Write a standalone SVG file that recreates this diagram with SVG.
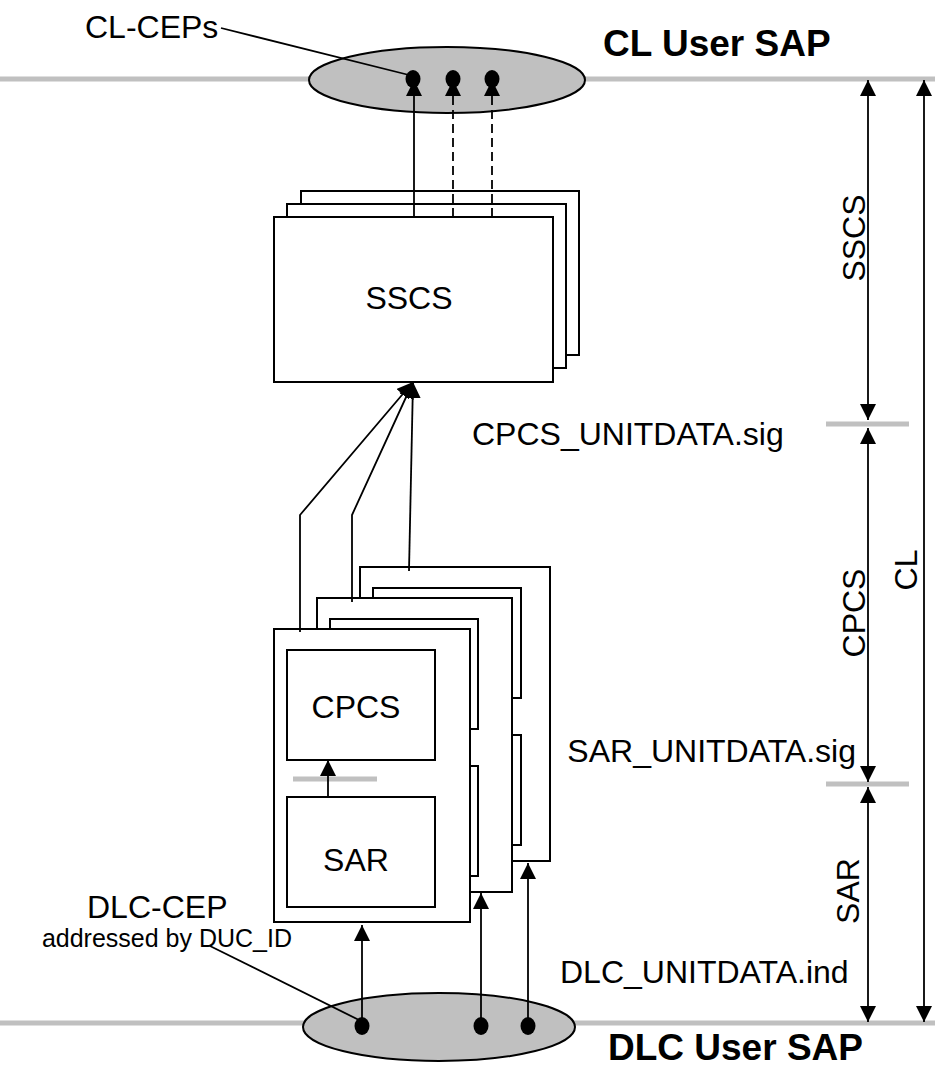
<svg xmlns="http://www.w3.org/2000/svg" width="935" height="1068" viewBox="0 0 935 1068">
<defs>
<style>
.t{font-family:"Liberation Sans",Arial,sans-serif;font-size:32px;fill:#000}
.tb{font-family:"Liberation Sans",Arial,sans-serif;font-size:37px;font-weight:bold;fill:#000}
.ts{font-family:"Liberation Sans",Arial,sans-serif;font-size:25px;fill:#000}
.box{fill:#fff;stroke:#000;stroke-width:2}
.sap{fill:#c0c0c0;stroke:#000;stroke-width:2}
.gl{stroke:#c0c0c0;stroke-width:5}
.ln{fill:none;stroke:#000;stroke-width:1.8}
.ar{fill:none;stroke:#000;stroke-width:1.8;marker-end:url(#ah)}
.dar{fill:none;stroke:#000;stroke-width:1.8;marker-start:url(#ahs);marker-end:url(#ah)}
.dash{stroke-dasharray:9,5}
.dot{fill:#000}
</style>
<marker id="ah" viewBox="0 0 16 16" refX="16" refY="8" markerWidth="16" markerHeight="16" orient="auto" markerUnits="userSpaceOnUse"><path d="M0,0L16,8L0,16z" fill="#000"/></marker>
<marker id="ahs" viewBox="0 0 16 16" refX="16" refY="8" markerWidth="16" markerHeight="16" orient="auto-start-reverse" markerUnits="userSpaceOnUse"><path d="M0,0L16,8L0,16z" fill="#000"/></marker>
</defs>

<g id="sap-lines">
<line class="gl" x1="0" y1="79" x2="935" y2="79"/>
<line class="gl" x1="0" y1="1023" x2="935" y2="1023"/>
<line class="gl" x1="826" y1="424" x2="909" y2="424"/>
<line class="gl" x1="826" y1="784" x2="909" y2="784"/>
</g>

<g id="cl-user-sap">
<ellipse class="sap" cx="447" cy="80" rx="138" ry="33"/>
</g>
<g id="dlc-user-sap">
<ellipse class="sap" cx="439" cy="1027" rx="136" ry="34"/>
</g>

<g id="sscs">
<rect class="box" x="301" y="191" width="278" height="164"/>
<rect class="box" x="287" y="204" width="279" height="164"/>
<rect class="box" x="274" y="217" width="279" height="165"/>
<text class="t" x="409" y="309" text-anchor="middle">SSCS</text>
</g>

<g id="entity-3">
<rect class="box" x="360" y="567" width="190" height="294"/>
<rect class="box" x="373" y="588" width="148" height="110"/>
<rect class="box" x="373" y="735" width="148" height="110"/>
</g>
<g id="entity-2">
<rect class="box" x="317" y="598" width="195" height="294"/>
<rect class="box" x="330" y="619" width="148" height="110"/>
<rect class="box" x="330" y="766" width="148" height="110"/>
</g>
<g id="entity-1">
<rect class="box" x="274" y="629" width="196" height="293"/>
<rect class="box" x="287" y="650" width="148" height="110"/>
<text class="t" x="356" y="718" text-anchor="middle">CPCS</text>
<rect class="box" x="287" y="797" width="148" height="110"/>
<text class="t" x="356" y="871" text-anchor="middle">SAR</text>
<line class="gl" x1="293" y1="779" x2="377" y2="779"/>
</g>

<g id="connectors">
<line class="ar" x1="414" y1="217" x2="414" y2="80"/>
<line class="ar dash" x1="453" y1="217" x2="453" y2="80"/>
<line class="ar dash" x1="492" y1="217" x2="492" y2="80"/>
<polyline class="ar" points="300,632 300,515 413,382"/>
<polyline class="ar" points="352,602 352,515 413,382"/>
<line class="ar" x1="409" y1="571" x2="413" y2="382"/>
<line class="ar" x1="328" y1="797" x2="328" y2="760"/>
<line class="ar" x1="362" y1="1026" x2="362" y2="925"/>
<line class="ar" x1="481" y1="1026" x2="481" y2="893"/>
<line class="ar" x1="528" y1="1026" x2="528" y2="863"/>
<line class="ln" x1="221" y1="28" x2="409" y2="75"/>
<line class="ln" x1="210" y1="946" x2="359" y2="1020"/>
<line class="dar" x1="868" y1="80" x2="868" y2="420"/>
<line class="dar" x1="868" y1="428" x2="868" y2="782"/>
<line class="dar" x1="868" y1="787" x2="868" y2="1022"/>
<line class="dar" x1="924" y1="80" x2="924" y2="1022"/>
</g>

<g id="cl-ceps">
<ellipse class="dot" cx="413" cy="79" rx="7.5" ry="9"/>
<ellipse class="dot" cx="453" cy="79" rx="7.5" ry="9"/>
<ellipse class="dot" cx="492" cy="79" rx="7.5" ry="9"/>
</g>
<g id="dlc-ceps">
<ellipse class="dot" cx="362" cy="1026" rx="7.5" ry="9"/>
<ellipse class="dot" cx="481" cy="1026" rx="7.5" ry="9"/>
<ellipse class="dot" cx="528" cy="1026" rx="7.5" ry="9"/>
</g>

<g id="labels">
<text class="t" x="85" y="38">CL-CEPs</text>
<text class="tb" x="603" y="56">CL User SAP</text>
<text class="t" x="472" y="445">CPCS_UNITDATA.sig</text>
<text class="t" x="856" y="762" text-anchor="end">SAR_UNITDATA.sig</text>
<text class="t" x="87" y="918">DLC-CEP</text>
<text class="ts" x="292" y="947" text-anchor="end">addressed by DUC_ID</text>
<text class="t" x="560" y="983">DLC_UNITDATA.ind</text>
<text class="tb" x="608" y="1060">DLC User SAP</text>
<text class="t" transform="translate(865,238) rotate(-90)" text-anchor="middle">SSCS</text>
<text class="t" transform="translate(865,613) rotate(-90)" text-anchor="middle">CPCS</text>
<text class="t" transform="translate(917,570) rotate(-90)" text-anchor="middle">CL</text>
<text class="t" transform="translate(859,891) rotate(-90)" text-anchor="middle">SAR</text>
</g>
</svg>
